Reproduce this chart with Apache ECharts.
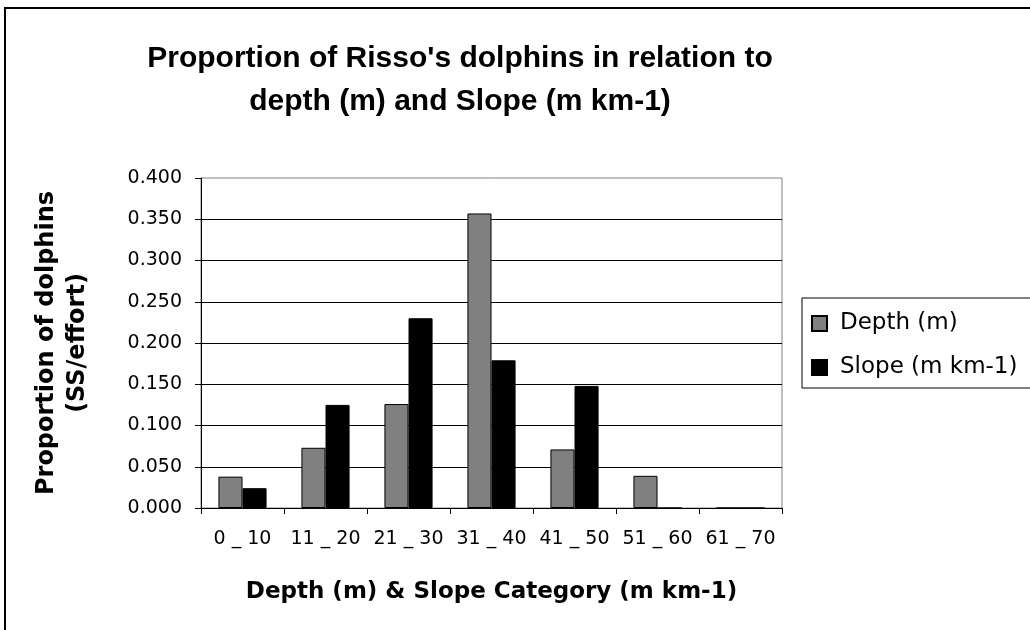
<!DOCTYPE html>
<html>
<head>
<meta charset="utf-8">
<script src="https://cdn.jsdelivr.net/npm/echarts@6/dist/echarts.min.js"></script>
<style>
html,body{margin:0;padding:0;background:#fff;}
#chart{width:1030px;height:630px;}
</style>
</head>
<body>
<div id="chart"></div>
<script>
var categories = ['0 _ 10', '11 _ 20', '21 _ 30', '31 _ 40', '41 _ 50', '51 _ 60', '61 _ 70'];
var depthValues = [0.038, 0.073, 0.126, 0.357, 0.071, 0.039, 0];
var slopeValues = [0.024, 0.125, 0.230, 0.179, 0.148, 0, 0];
var seriesNames = ['Depth (m)', 'Slope (m km-1)'];
var titleText = "Proportion of Risso's dolphins in relation to\ndepth (m) and Slope (m km-1)";
var xAxisTitle = 'Depth (m) & Slope Category (m km-1)';
var yAxisTitle = 'Proportion of dolphins\n(SS/effort)';

var chart = echarts.init(document.getElementById('chart'), null, {renderer: 'canvas'});
var option = {
  backgroundColor: '#ffffff',
  animation: false,
  graphic: [{
    type: 'rect',
    shape: {x: 5, y: 8, width: 1100, height: 700},
    style: {fill: 'none', stroke: '#000', lineWidth: 2},
    silent: true, z: 100
  }],
  title: {
    text: titleText,
    left: 455,
    textAlign: 'center',
    top: 32,
    textStyle: {
      fontFamily: 'Liberation Sans, Arial, sans-serif',
      fontWeight: 'bold',
      fontSize: 30,
      lineHeight: 43,
      color: '#000'
    }
  },
  legend: {
    orient: 'vertical',
    left: 802,
    top: 298,
    itemWidth: 15,
    itemHeight: 15,
    itemGap: 21,
    padding: [14, 30, 9, 9],
    borderColor: '#000',
    borderWidth: 1,
    backgroundColor: '#fff',
    icon: 'rect',
    textStyle: {
      fontFamily: 'DejaVu Sans, sans-serif',
      fontSize: 23,
      lineHeight: 22,
      color: '#000',
      padding: [0, 0, 0, 8]
    },
    data: seriesNames
  },
  grid: {
    left: 201, top: 178, right: 248, bottom: 122,
    show: true, borderColor: '#808080', borderWidth: 1,
    containLabel: false
  },
  xAxis: {
    type: 'category',
    data: categories,
    boundaryGap: true,
    name: xAxisTitle,
    nameLocation: 'middle',
    nameGap: 73,
    nameTextStyle: {
      fontFamily: 'DejaVu Sans, sans-serif',
      fontWeight: 'bold',
      fontSize: 23,
      color: '#000'
    },
    axisLine: {show: true, lineStyle: {color: '#000', width: 1}},
    axisTick: {show: true, length: 6, lineStyle: {color: '#000'}},
    axisLabel: {
      margin: 22,
      fontFamily: 'DejaVu Sans, sans-serif',
      fontSize: 19,
      color: '#000',
      interval: 0
    },
    splitLine: {show: false}
  },
  yAxis: {
    type: 'value',
    min: 0,
    max: 0.4,
    interval: 0.05,
    name: yAxisTitle,
    nameLocation: 'middle',
    nameGap: 108,
    nameRotate: 90,
    nameTextStyle: {
      fontFamily: 'DejaVu Sans, sans-serif',
      fontWeight: 'bold',
      fontSize: 24,
      lineHeight: 31,
      color: '#000'
    },
    axisLine: {show: true, lineStyle: {color: '#000', width: 1}},
    axisTick: {show: true, length: 6, lineStyle: {color: '#000'}},
    axisLabel: {
      margin: 19,
      fontFamily: 'DejaVu Sans, sans-serif',
      fontSize: 19,
      color: '#000',
      formatter: function (v) { return v.toFixed(3); }
    },
    splitLine: {show: true, showMaxLine: false, lineStyle: {color: '#000', width: 1}}
  },
  series: [
    {
      name: seriesNames[0],
      type: 'bar',
      data: depthValues,
      barGap: '0%',
      barCategoryGap: '42%',
      itemStyle: {color: '#808080', borderColor: '#000', borderWidth: 1}
    },
    {
      name: seriesNames[1],
      type: 'bar',
      data: slopeValues,
      barGap: '0%',
      barCategoryGap: '42%',
      itemStyle: {color: '#000000', borderColor: '#000', borderWidth: 1}
    }
  ]
};
chart.setOption(option);
</script>
</body>
</html>
